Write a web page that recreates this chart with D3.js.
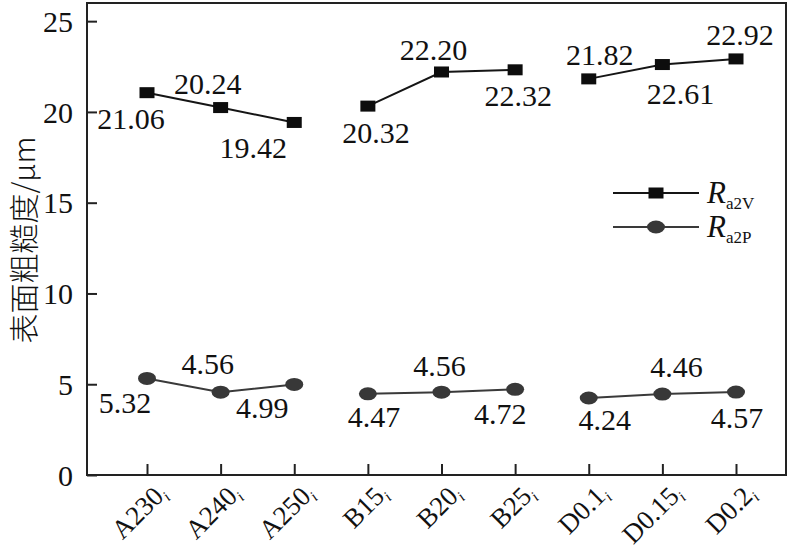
<!DOCTYPE html>
<html>
<head>
<meta charset="utf-8">
<script src="https://cdn.jsdelivr.net/npm/d3@7"></script>
<style>
  html, body { margin: 0; padding: 0; background: #fff; }
  svg { display: block; }
  text { font-family: "Liberation Serif", "Times New Roman", Times, serif; fill: #111; }
</style>
</head>
<body>
<svg id="chart" width="800" height="550"></svg>
<script>
// ---- data ----
const categories = ["A230", "A240", "A250", "B15", "B20", "B25", "D0.1", "D0.15", "D0.2"];
const groups     = ["A", "A", "A", "B", "B", "B", "D", "D", "D"];
const ra2V = [21.06, 20.24, 19.42, 20.32, 22.20, 22.32, 21.82, 22.61, 22.92];
const ra2P = [5.32, 4.56, 4.99, 4.47, 4.56, 4.72, 4.24, 4.46, 4.57];
const yTicks = [0, 5, 10, 15, 20, 25];
const yTitle = "表面粗糙度/μm";
const seriesNames = [["R", "a2V"], ["R", "a2P"]];

// ---- layout (label offsets: [dx of centre, dy of baseline] relative to the point) ----
const vLabelOffsets = [[-16, 36], [-13, -14], [-41, 36], [8, 37], [-8, -12], [3, 36], [11, -14], [18, 39], [4, -14]];
const pLabelOffsets = [[-22, 35], [-13, -18], [-32, 34], [6, 33], [-2, -16], [-15, 35], [16, 32], [14, -17], [1, 36]];

const SERIF = "'Liberation Serif', 'Times New Roman', Times, serif";
const svg = d3.select("#chart");
const plotL = 87, plotR = 786, plotT = 3, plotB = 475;

const x = d3.scalePoint().domain(categories).range([147, 736]).padding(0);
const y = d3.scaleLinear().domain([0, 26]).range([plotB, plotT]);

// frame
svg.append("rect")
  .attr("x", plotL).attr("y", plotT)
  .attr("width", plotR - plotL).attr("height", plotB - plotT)
  .attr("fill", "none").attr("stroke", "#222").attr("stroke-width", 2);

// y axis
const yAxis = svg.append("g")
  .attr("transform", `translate(${plotL},0)`)
  .call(d3.axisRight(y).tickValues(yTicks).tickSize(10).tickFormat(d3.format("d")));
yAxis.attr("font-family", null);
yAxis.select(".domain").remove();
yAxis.selectAll(".tick line").attr("stroke", "#222").attr("stroke-width", 2);
yAxis.selectAll(".tick text")
  .attr("x", -14).attr("text-anchor", "end").attr("dy", "0.34em")
  .style("font-size", "30px")
  .style("font-family", SERIF).attr("fill", "#111");

// x axis
const xAxis = svg.append("g")
  .attr("transform", `translate(0,${plotB})`)
  .call(d3.axisTop(x).tickSize(11).tickFormat(""));
xAxis.select(".domain").remove();
xAxis.selectAll(".tick line").attr("stroke", "#222").attr("stroke-width", 2);

// x labels with subscript i
const xl = svg.append("g").selectAll("text").data(categories).join("text")
  .attr("transform", d => `translate(${x(d) + 21},${plotB + 20}) rotate(-45)`)
  .attr("text-anchor", "end")
  .style("font-family", SERIF)
  .style("font-size", "27px");
xl.append("tspan").text(d => d);
xl.append("tspan").text("i").attr("font-style", "italic").attr("dy", 5).style("font-size", "15px");

// y title
svg.append("text")
  .attr("transform", `translate(35,240) rotate(-90)`)
  .attr("text-anchor", "middle")
  .style("font-size", "30px")
  .style("font-family", "'Noto Sans CJK SC', sans-serif")
  .style("font-weight", 300)
  .text(yTitle);

// lines by group
const groupKeys = Array.from(new Set(groups));
const idx = d3.range(categories.length);
function drawSeries(values, color, markerFn) {
  const line = d3.line().x(i => x(categories[i])).y(i => y(values[i]));
  groupKeys.forEach(g => {
    const ids = idx.filter(i => groups[i] === g);
    svg.append("path").attr("d", line(ids))
      .attr("fill", "none").attr("stroke", color).attr("stroke-width", 2);
  });
  idx.forEach(i => markerFn(svg, x(categories[i]), y(values[i])));
}
const squareMarker = (g, cx, cy) => g.append("rect")
  .attr("x", cx - 7.5).attr("y", cy - 5.5).attr("width", 15).attr("height", 11).attr("fill", "#0d0d0d");
const ellipseMarker = (g, cx, cy) => g.append("ellipse")
  .attr("cx", cx).attr("cy", cy).attr("rx", 9).attr("ry", 6.5).attr("fill", "#383838");

drawSeries(ra2V, "#151515", squareMarker);
drawSeries(ra2P, "#3a3a3a", ellipseMarker);

// value labels
function drawLabels(values, offsets) {
  svg.append("g").selectAll("text").data(idx).join("text")
    .attr("x", i => x(categories[i]) + offsets[i][0])
    .attr("y", i => y(values[i]) + offsets[i][1])
    .attr("text-anchor", "middle")
    .style("font-family", SERIF)
    .style("font-size", "30px")
    .text(i => values[i].toFixed(2));
}
drawLabels(ra2V, vLabelOffsets);
drawLabels(ra2P, pLabelOffsets);

// legend
const legendRows = [
  { y: 193, color: "#151515", marker: squareMarker, name: seriesNames[0] },
  { y: 227, color: "#3a3a3a", marker: ellipseMarker, name: seriesNames[1] }
];
legendRows.forEach(r => {
  svg.append("line").attr("x1", 613).attr("x2", 699).attr("y1", r.y).attr("y2", r.y)
    .attr("stroke", r.color).attr("stroke-width", 2.2);
  r.marker(svg, 656, r.y);
  const t = svg.append("text").attr("x", 707).attr("y", r.y + 10).style("font-family", SERIF);
  t.append("tspan").text(r.name[0]).attr("font-style", "italic").style("font-size", "31px");
  t.append("tspan").text(r.name[1]).attr("dy", 6).style("font-size", "17px");
});
</script>
</body>
</html>
